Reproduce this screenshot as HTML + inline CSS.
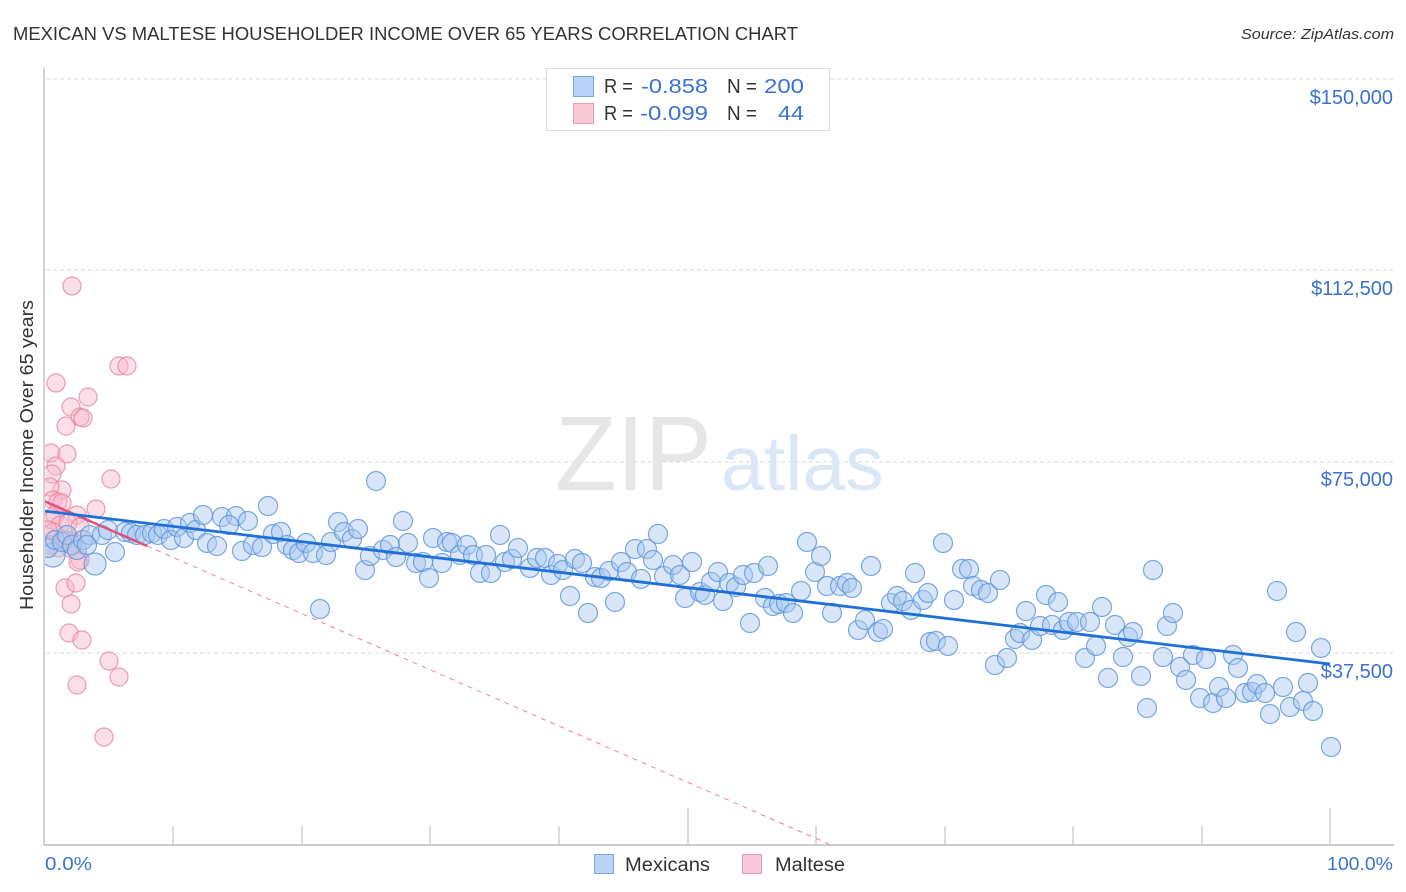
<!DOCTYPE html>
<html><head><meta charset="utf-8"><style>
html,body{margin:0;padding:0;background:#fff;}
svg{display:block;}
text{font-family:"Liberation Sans",sans-serif;}
</style></head><body>
<svg width="1406" height="892" viewBox="0 0 1406 892" xmlns="http://www.w3.org/2000/svg">
<defs><clipPath id="plot"><rect x="45" y="60" width="1360" height="785"/></clipPath></defs>
<text x="13" y="40" font-size="18" fill="#333" textLength="785" lengthAdjust="spacingAndGlyphs">MEXICAN VS MALTESE HOUSEHOLDER INCOME OVER 65 YEARS CORRELATION CHART</text>
<text x="1241" y="39" font-size="15" fill="#333" font-style="italic" textLength="153" lengthAdjust="spacingAndGlyphs">Source: ZipAtlas.com</text>
<!-- grid -->
<g stroke="#d8d8d8" stroke-width="1" stroke-dasharray="4,3">
<line x1="46" y1="79" x2="1393" y2="79"/><line x1="46" y1="270" x2="1393" y2="270"/><line x1="46" y1="462" x2="1393" y2="462"/><line x1="46" y1="653" x2="1393" y2="653"/>
</g>
<!-- watermark -->
<text x="555" y="490" font-family="Liberation Serif,serif" font-size="106" fill="#e6e6e6" textLength="157" lengthAdjust="spacingAndGlyphs">ZIP</text>
<text x="721" y="490" font-size="77" fill="#dbe6f6">atlas</text>
<!-- axes -->
<line x1="44" y1="68" x2="44" y2="845" stroke="#bbb" stroke-width="1.3"/>
<line x1="44" y1="845" x2="1394" y2="845" stroke="#bbb" stroke-width="1.5"/>
<g stroke="#bbb" stroke-width="1">
<line x1="173" y1="826" x2="173" y2="845"/><line x1="302" y1="826" x2="302" y2="845"/><line x1="430" y1="826" x2="430" y2="845"/><line x1="559" y1="826" x2="559" y2="845"/><line x1="688" y1="808" x2="688" y2="845"/><line x1="816" y1="826" x2="816" y2="845"/><line x1="945" y1="826" x2="945" y2="845"/><line x1="1073" y1="826" x2="1073" y2="845"/><line x1="1202" y1="826" x2="1202" y2="845"/><line x1="1330" y1="808" x2="1330" y2="845"/>
</g>
<g font-size="20" fill="#3a73d1" text-anchor="end">
<text x="1393" y="104">$150,000</text><text x="1393" y="295">$112,500</text><text x="1393" y="486">$75,000</text><text x="1393" y="678">$37,500</text>
</g>
<text x="45" y="870" font-size="18" fill="#3a73d1" textLength="47" lengthAdjust="spacingAndGlyphs">0.0%</text>
<text x="1327" y="870" font-size="18" fill="#3a73d1" textLength="66" lengthAdjust="spacingAndGlyphs">100.0%</text>
<text transform="translate(33,455) rotate(-90)" font-size="18" fill="#333" text-anchor="middle" textLength="310" lengthAdjust="spacingAndGlyphs">Householder Income Over 65 years</text>
<g clip-path="url(#plot)">
<g fill="#f7b9cc" fill-opacity="0.45" stroke="#e8849f" stroke-opacity="0.8" stroke-width="1.2">
<circle cx="72" cy="286" r="9"/><circle cx="119" cy="366" r="9"/><circle cx="127" cy="366" r="9"/><circle cx="56" cy="383" r="9"/><circle cx="88" cy="397" r="9"/><circle cx="71" cy="407" r="9"/><circle cx="80" cy="417" r="9"/><circle cx="83" cy="418" r="9"/><circle cx="66" cy="426" r="9"/><circle cx="51" cy="453" r="9"/><circle cx="67" cy="454" r="9"/><circle cx="56" cy="466" r="9"/><circle cx="52" cy="474" r="9"/><circle cx="111" cy="479" r="9"/><circle cx="62" cy="490" r="9"/><circle cx="50" cy="487" r="9"/><circle cx="53" cy="500" r="9"/><circle cx="58" cy="502" r="9"/><circle cx="96" cy="509" r="9"/><circle cx="77" cy="515" r="9"/><circle cx="55" cy="515" r="9"/><circle cx="52" cy="520" r="9"/><circle cx="60" cy="525" r="9"/><circle cx="68" cy="523" r="9"/><circle cx="80" cy="527" r="9"/><circle cx="53" cy="532" r="9"/><circle cx="65" cy="540" r="9"/><circle cx="73" cy="542" r="9"/><circle cx="58" cy="548" r="9"/><circle cx="70" cy="548" r="9"/><circle cx="80" cy="560" r="9"/><circle cx="78" cy="562" r="9"/><circle cx="65" cy="588" r="9"/><circle cx="76" cy="583" r="9"/><circle cx="71" cy="604" r="9"/><circle cx="69" cy="633" r="9"/><circle cx="82" cy="640" r="9"/><circle cx="109" cy="661" r="9"/><circle cx="119" cy="677" r="9"/><circle cx="77" cy="685" r="9"/><circle cx="104" cy="737" r="9"/><circle cx="62" cy="503" r="9"/><circle cx="48" cy="530" r="9"/><circle cx="50" cy="545" r="9"/>
</g>
<g fill="#a9c8f0" fill-opacity="0.45" stroke="#5b93dd" stroke-opacity="0.8" stroke-width="1.2">
<circle cx="53" cy="555" r="12"/><circle cx="95" cy="564" r="11"/><circle cx="48" cy="548" r="9.5"/>
<circle cx="55" cy="540" r="9.5"/><circle cx="62" cy="542" r="9.5"/><circle cx="67" cy="535" r="9.5"/><circle cx="72" cy="545" r="9.5"/><circle cx="77" cy="550" r="9.5"/><circle cx="83" cy="540" r="9.5"/><circle cx="90" cy="535" r="9.5"/><circle cx="87" cy="545" r="9.5"/><circle cx="102" cy="535" r="9.5"/><circle cx="108" cy="530" r="9.5"/><circle cx="115" cy="552" r="9.5"/><circle cx="125" cy="532" r="9.5"/><circle cx="131" cy="533" r="9.5"/><circle cx="137" cy="535" r="9.5"/><circle cx="145" cy="535" r="9.5"/><circle cx="152" cy="533" r="9.5"/><circle cx="158" cy="535" r="9.5"/><circle cx="164" cy="529" r="9.5"/><circle cx="171" cy="540" r="9.5"/><circle cx="177" cy="527" r="9.5"/><circle cx="184" cy="538" r="9.5"/><circle cx="190" cy="523" r="9.5"/><circle cx="196" cy="530" r="9.5"/><circle cx="203" cy="515" r="9.5"/><circle cx="207" cy="543" r="9.5"/>
<circle cx="376" cy="481" r="9.5"/><circle cx="268" cy="506" r="9.5"/><circle cx="222" cy="517" r="9.5"/><circle cx="236" cy="516" r="9.5"/><circle cx="229" cy="525" r="9.5"/><circle cx="248" cy="521" r="9.5"/><circle cx="217" cy="546" r="9.5"/><circle cx="242" cy="551" r="9.5"/><circle cx="253" cy="545" r="9.5"/><circle cx="262" cy="547" r="9.5"/><circle cx="273" cy="534" r="9.5"/><circle cx="281" cy="532" r="9.5"/><circle cx="287" cy="545" r="9.5"/><circle cx="293" cy="550" r="9.5"/><circle cx="299" cy="553" r="9.5"/><circle cx="306" cy="543" r="9.5"/><circle cx="313" cy="553" r="9.5"/><circle cx="326" cy="555" r="9.5"/><circle cx="331" cy="542" r="9.5"/><circle cx="338" cy="522" r="9.5"/><circle cx="344" cy="532" r="9.5"/><circle cx="352" cy="539" r="9.5"/><circle cx="358" cy="529" r="9.5"/><circle cx="365" cy="570" r="9.5"/><circle cx="370" cy="556" r="9.5"/><circle cx="383" cy="550" r="9.5"/><circle cx="390" cy="545" r="9.5"/><circle cx="396" cy="557" r="9.5"/><circle cx="403" cy="521" r="9.5"/><circle cx="408" cy="543" r="9.5"/><circle cx="416" cy="563" r="9.5"/><circle cx="423" cy="562" r="9.5"/><circle cx="429" cy="578" r="9.5"/><circle cx="433" cy="538" r="9.5"/><circle cx="442" cy="563" r="9.5"/><circle cx="447" cy="542" r="9.5"/><circle cx="452" cy="543" r="9.5"/><circle cx="460" cy="555" r="9.5"/><circle cx="467" cy="545" r="9.5"/><circle cx="473" cy="555" r="9.5"/><circle cx="480" cy="573" r="9.5"/><circle cx="486" cy="555" r="9.5"/><circle cx="491" cy="573" r="9.5"/><circle cx="500" cy="535" r="9.5"/><circle cx="505" cy="562" r="9.5"/><circle cx="512" cy="559" r="9.5"/><circle cx="518" cy="548" r="9.5"/><circle cx="530" cy="568" r="9.5"/><circle cx="537" cy="558" r="9.5"/><circle cx="320" cy="609" r="9.5"/>
<circle cx="545" cy="558" r="9.5"/><circle cx="551" cy="575" r="9.5"/><circle cx="558" cy="564" r="9.5"/><circle cx="563" cy="570" r="9.5"/><circle cx="570" cy="596" r="9.5"/><circle cx="575" cy="559" r="9.5"/><circle cx="582" cy="563" r="9.5"/><circle cx="588" cy="613" r="9.5"/><circle cx="595" cy="577" r="9.5"/><circle cx="601" cy="578" r="9.5"/><circle cx="609" cy="571" r="9.5"/><circle cx="615" cy="602" r="9.5"/><circle cx="621" cy="562" r="9.5"/><circle cx="627" cy="572" r="9.5"/><circle cx="635" cy="549" r="9.5"/><circle cx="641" cy="579" r="9.5"/><circle cx="647" cy="549" r="9.5"/><circle cx="653" cy="560" r="9.5"/><circle cx="658" cy="534" r="9.5"/><circle cx="664" cy="576" r="9.5"/><circle cx="673" cy="565" r="9.5"/><circle cx="680" cy="575" r="9.5"/><circle cx="685" cy="598" r="9.5"/><circle cx="692" cy="562" r="9.5"/><circle cx="700" cy="592" r="9.5"/><circle cx="705" cy="595" r="9.5"/><circle cx="711" cy="582" r="9.5"/><circle cx="718" cy="572" r="9.5"/><circle cx="723" cy="601" r="9.5"/><circle cx="729" cy="583" r="9.5"/><circle cx="736" cy="587" r="9.5"/><circle cx="743" cy="575" r="9.5"/><circle cx="750" cy="623" r="9.5"/><circle cx="754" cy="573" r="9.5"/><circle cx="765" cy="598" r="9.5"/><circle cx="768" cy="566" r="9.5"/><circle cx="773" cy="606" r="9.5"/><circle cx="779" cy="604" r="9.5"/><circle cx="786" cy="603" r="9.5"/><circle cx="793" cy="613" r="9.5"/><circle cx="801" cy="591" r="9.5"/><circle cx="807" cy="542" r="9.5"/><circle cx="815" cy="572" r="9.5"/><circle cx="821" cy="556" r="9.5"/><circle cx="827" cy="586" r="9.5"/><circle cx="832" cy="613" r="9.5"/><circle cx="840" cy="586" r="9.5"/><circle cx="847" cy="583" r="9.5"/><circle cx="852" cy="588" r="9.5"/><circle cx="858" cy="630" r="9.5"/><circle cx="865" cy="620" r="9.5"/><circle cx="871" cy="566" r="9.5"/><circle cx="878" cy="632" r="9.5"/><circle cx="883" cy="629" r="9.5"/><circle cx="891" cy="603" r="9.5"/><circle cx="897" cy="596" r="9.5"/><circle cx="903" cy="601" r="9.5"/><circle cx="911" cy="610" r="9.5"/><circle cx="915" cy="573" r="9.5"/><circle cx="923" cy="600" r="9.5"/><circle cx="928" cy="593" r="9.5"/><circle cx="930" cy="642" r="9.5"/>
<circle cx="943" cy="543" r="9.5"/><circle cx="936" cy="641" r="9.5"/><circle cx="948" cy="646" r="9.5"/><circle cx="954" cy="600" r="9.5"/><circle cx="962" cy="569" r="9.5"/><circle cx="969" cy="569" r="9.5"/><circle cx="973" cy="586" r="9.5"/><circle cx="981" cy="590" r="9.5"/><circle cx="988" cy="593" r="9.5"/><circle cx="1000" cy="580" r="9.5"/><circle cx="995" cy="665" r="9.5"/><circle cx="1007" cy="658" r="9.5"/><circle cx="1015" cy="639" r="9.5"/><circle cx="1020" cy="633" r="9.5"/><circle cx="1026" cy="611" r="9.5"/><circle cx="1032" cy="640" r="9.5"/><circle cx="1040" cy="626" r="9.5"/><circle cx="1046" cy="595" r="9.5"/><circle cx="1052" cy="625" r="9.5"/><circle cx="1058" cy="602" r="9.5"/><circle cx="1063" cy="630" r="9.5"/><circle cx="1069" cy="622" r="9.5"/><circle cx="1077" cy="622" r="9.5"/><circle cx="1085" cy="658" r="9.5"/><circle cx="1090" cy="622" r="9.5"/><circle cx="1096" cy="646" r="9.5"/><circle cx="1102" cy="607" r="9.5"/><circle cx="1108" cy="678" r="9.5"/><circle cx="1115" cy="625" r="9.5"/><circle cx="1123" cy="657" r="9.5"/><circle cx="1128" cy="637" r="9.5"/><circle cx="1133" cy="632" r="9.5"/><circle cx="1141" cy="676" r="9.5"/><circle cx="1147" cy="708" r="9.5"/><circle cx="1153" cy="570" r="9.5"/><circle cx="1163" cy="657" r="9.5"/><circle cx="1167" cy="626" r="9.5"/><circle cx="1173" cy="613" r="9.5"/><circle cx="1180" cy="667" r="9.5"/><circle cx="1186" cy="680" r="9.5"/><circle cx="1193" cy="655" r="9.5"/><circle cx="1200" cy="698" r="9.5"/><circle cx="1206" cy="659" r="9.5"/><circle cx="1213" cy="703" r="9.5"/><circle cx="1219" cy="687" r="9.5"/><circle cx="1226" cy="698" r="9.5"/><circle cx="1233" cy="655" r="9.5"/><circle cx="1238" cy="668" r="9.5"/><circle cx="1245" cy="693" r="9.5"/><circle cx="1252" cy="692" r="9.5"/><circle cx="1257" cy="684" r="9.5"/><circle cx="1265" cy="693" r="9.5"/><circle cx="1270" cy="714" r="9.5"/><circle cx="1277" cy="591" r="9.5"/><circle cx="1283" cy="687" r="9.5"/><circle cx="1290" cy="707" r="9.5"/><circle cx="1296" cy="632" r="9.5"/><circle cx="1303" cy="701" r="9.5"/><circle cx="1308" cy="683" r="9.5"/><circle cx="1313" cy="711" r="9.5"/><circle cx="1321" cy="648" r="9.5"/><circle cx="1331" cy="747" r="9.5"/>
</g>
<line x1="147" y1="546" x2="831" y2="845" stroke="#e8849f" stroke-width="1" stroke-dasharray="5,5"/>
<line x1="44" y1="501" x2="147" y2="546" stroke="#e0527c" stroke-width="2.5"/>
<line x1="44" y1="511" x2="1330" y2="664" stroke="#1f6fd8" stroke-width="2.8"/>
</g>
<!-- legend box -->
<rect x="546.5" y="68.5" width="283" height="62" fill="#fff" stroke="#ddd" stroke-width="1"/>
<rect x="573.5" y="76.5" width="20" height="20" fill="#b8d3f5" stroke="#7aa6e6" stroke-width="1"/>
<rect x="573.5" y="103.5" width="20" height="20" fill="#f9c8d6" stroke="#eb98b0" stroke-width="1"/>
<g font-size="20">
<text x="604" y="93" fill="#333" textLength="29" lengthAdjust="spacingAndGlyphs">R =</text><text x="641" y="93" fill="#3a73d1" textLength="67" lengthAdjust="spacingAndGlyphs">-0.858</text><text x="727" y="93" fill="#333" textLength="30" lengthAdjust="spacingAndGlyphs">N =</text><text x="764" y="93" fill="#3a73d1" textLength="40" lengthAdjust="spacingAndGlyphs">200</text>
<text x="604" y="120" fill="#333" textLength="29" lengthAdjust="spacingAndGlyphs">R =</text><text x="640" y="120" fill="#3a73d1" textLength="68" lengthAdjust="spacingAndGlyphs">-0.099</text><text x="727" y="120" fill="#333" textLength="30" lengthAdjust="spacingAndGlyphs">N =</text><text x="778" y="120" fill="#3a73d1" textLength="26" lengthAdjust="spacingAndGlyphs">44</text>
</g>
<!-- bottom legend -->
<rect x="594.5" y="854.5" width="19" height="19" fill="#b8d3f5" stroke="#7aa6e6" stroke-width="1"/>
<text x="625" y="871" font-size="19" fill="#333" textLength="85" lengthAdjust="spacingAndGlyphs">Mexicans</text>
<rect x="742.5" y="854.5" width="19" height="19" fill="#f9c8d6" stroke="#eb98b0" stroke-width="1"/>
<text x="775" y="871" font-size="19" fill="#333" textLength="70" lengthAdjust="spacingAndGlyphs">Maltese</text>
</svg>
</body></html>
